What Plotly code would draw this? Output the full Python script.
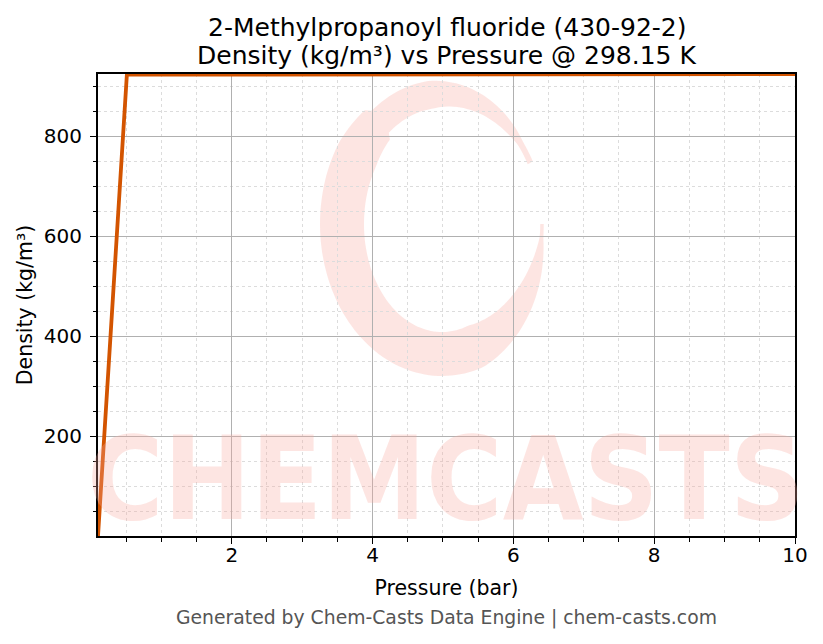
import numpy as np
import plotly.graph_objects as go

# data (pressure in bar, density in kg/m3)
pressure = [0.1, 0.51, 1.0, 2.0, 3.0, 4.0, 5.0, 6.0, 7.0, 8.0, 9.0, 10.0]
density = [0.36, 922.6, 922.7, 922.8, 922.9, 923.0, 923.1, 923.2, 923.3, 923.4, 923.5, 923.6]

x_ticks = [2, 4, 6, 8, 10]
y_ticks = [200, 400, 600, 800]

title_1 = "2-Methylpropanoyl fluoride (430-92-2)"
title_2 = "Density (kg/m³) vs Pressure @ 298.15 K"
footer = "Generated by Chem-Casts Data Engine | chem-casts.com"

# page body has an 8px margin, so the figure is drawn 8px smaller/offset
OFF = 8
W, H = 823 - OFF, 644 - OFF
L, R, T, B = 98 - OFF, 795 - OFF, 74 - OFF, 536 - OFF  # plot box in figure px
FONT = "DejaVu Sans"


def px(x):
    # reference screen x -> paper
    return (x - OFF - L) / (R - L)


def py(y):
    # reference screen y -> paper
    return (B - (y - OFF)) / (B - T)


# watermark ring (brush "C"), built in screen pixels then mapped to paper
th = np.radians(np.linspace(28, 360, 160))
tdeg = np.degrees(th)
thick = 44 * np.minimum.reduce([np.ones_like(tdeg),
                                np.clip((tdeg - 28) / 120, 0.08, 1) ** 0.8,
                                np.clip((360 - tdeg) / 70, 0.08, 1)])
thick = np.where((tdeg > 60) & (tdeg < 130), np.minimum(thick, 28), thick)
cx, cy, rx, ry = 442, 224, 100, 130
ox = cx + (rx + thick / 2) * np.cos(th)
oy = cy - (ry + thick / 2) * np.sin(th)
ix = cx + (rx - thick / 2) * np.cos(th)
iy = cy - (ry - thick / 2) * np.sin(th)
pts = list(zip(ox, oy)) + list(zip(ix[::-1], iy[::-1]))
ring_path = "M " + " L ".join(f"{px(a):.4f},{py(b):.4f}" for a, b in pts) + " Z"

fig = go.Figure()
fig.add_trace(go.Scatter(x=pressure, y=density, mode="lines",
                         line=dict(color="#d35400", width=3.8),
                         showlegend=False))

fig.add_shape(type="path", path=ring_path, xref="paper", yref="paper",
              fillcolor="rgba(248,170,160,0.3)", line=dict(width=0), layer="below")

fig.add_annotation(text="<b>CHEMCASTS</b>", xref="paper", yref="paper",
                   x=px(446), y=py(478), xanchor="center", yanchor="middle",
                   showarrow=False,
                   font=dict(family="DejaVu Sans Condensed", size=116,
                             color="rgba(248,170,160,0.3)"))

fig.add_annotation(text=title_1, xref="paper", yref="paper", x=px(446.5), y=py(27),
                   xanchor="center", yanchor="middle", showarrow=False,
                   font=dict(family=FONT, size=25, color="black"))
fig.add_annotation(text=title_2, xref="paper", yref="paper", x=px(446.5), y=py(55),
                   xanchor="center", yanchor="middle", showarrow=False,
                   font=dict(family=FONT, size=25, color="black"))
fig.add_annotation(text=footer, xref="paper", yref="paper", x=px(446), y=py(618),
                   xanchor="center", yanchor="middle", showarrow=False,
                   font=dict(family=FONT, size=18.8, color="#555555"))

axis_common = dict(showline=True, linecolor="black", linewidth=2, mirror=True,
                   ticks="outside", ticklen=6, tickwidth=1.3, tickcolor="black",
                   showgrid=True, gridcolor="#b0b0b0", gridwidth=1,
                   zeroline=False,
                   tickfont=dict(family=FONT, size=20, color="black"))

fig.update_xaxes(range=[0.1, 10], tickvals=x_ticks, ticklabelstandoff=-6,
                 title=dict(text="Pressure (bar)", standoff=15,
                            font=dict(family=FONT, size=20.5, color="black")),
                 minor=dict(dtick=0.5, tick0=0, ticks="outside", ticklen=3.5,
                            tickcolor="black", showgrid=True,
                            gridcolor="#dcdcdc", griddash="dot", gridwidth=1),
                 **axis_common)
fig.update_yaxes(range=[0.36, 924], tickvals=y_ticks, ticklabelstandoff=4,
                 title=dict(text="Density (kg/m³)", standoff=6,
                            font=dict(family=FONT, size=20.5, color="black")),
                 minor=dict(dtick=50, tick0=0, ticks="outside", ticklen=3.5,
                            tickcolor="black", showgrid=True,
                            gridcolor="#dcdcdc", griddash="dot", gridwidth=1),
                 **axis_common)

fig.update_layout(width=W, height=H, autosize=False,
                  margin=dict(l=L, r=W - R, t=T, b=H - B, pad=0),
                  plot_bgcolor="white", paper_bgcolor="white",
                  font=dict(family=FONT, color="black"))

fig.write_html("out.html")
